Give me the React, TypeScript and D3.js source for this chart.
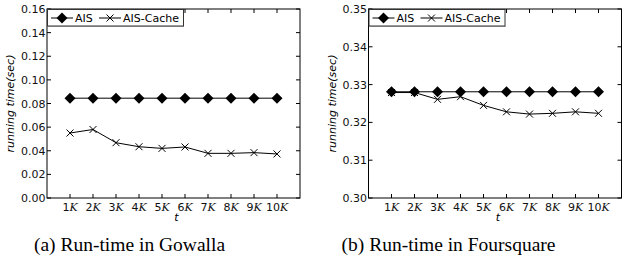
import * as d3 from "d3";
import React, { useEffect, useRef } from "react";

const tLabels = ["1", "2", "3", "4", "5", "6", "7", "8", "9", "10"];

const gowallaAIS = [0.0845, 0.0845, 0.0845, 0.0845, 0.0845, 0.0845, 0.0845, 0.0845, 0.0845, 0.0845];
const gowallaCache = [0.055, 0.058, 0.0468, 0.0434, 0.042, 0.0432, 0.0378, 0.0378, 0.0384, 0.0373];
const gowallaTicks = [0, 0.02, 0.04, 0.06, 0.08, 0.1, 0.12, 0.14, 0.16];

const fsqAIS = [0.3281, 0.3281, 0.3281, 0.3281, 0.3281, 0.3281, 0.3281, 0.3281, 0.3281, 0.3281];
const fsqCache = [0.3279, 0.3279, 0.3261, 0.3268, 0.3245, 0.3228, 0.3222, 0.3224, 0.3228, 0.3224];
const fsqTicks = [0.3, 0.31, 0.32, 0.33, 0.34, 0.35];

const Panel = ({ x0, ais, cache, yDomain, yTicks, caption, captionX }) => {
  const ref = useRef(null);

  useEffect(() => {
    const g = d3.select(ref.current);
    g.selectAll("*").remove();

    const left = x0, right = x0 + 253, top = 9, bottom = 198;
    const x = d3.scaleLinear().domain([0, 11]).range([left, right]);
    const y = d3.scaleLinear().domain(yDomain).range([bottom, top]);
    const font = "DejaVu Sans, sans-serif";

    // frame
    g.append("rect")
      .attr("x", left).attr("y", top)
      .attr("width", right - left).attr("height", bottom - top)
      .attr("fill", "white").attr("stroke", "black").attr("stroke-width", 1);

    // y ticks (inward, both sides)
    yTicks.forEach((v) => {
      const yy = y(v);
      g.append("line").attr("x1", left).attr("x2", left + 4).attr("y1", yy).attr("y2", yy).attr("stroke", "black");
      g.append("line").attr("x1", right).attr("x2", right - 4).attr("y1", yy).attr("y2", yy).attr("stroke", "black");
      g.append("text")
        .attr("x", left - 1.5).attr("y", yy + 4)
        .attr("text-anchor", "end")
        .attr("font-family", font).attr("font-size", 11)
        .attr("fill", "#111")
        .text(v.toFixed(2));
    });

    // x ticks
    tLabels.forEach((t, i) => {
      const xx = x(i + 1);
      g.append("line").attr("x1", xx).attr("x2", xx).attr("y1", bottom).attr("y2", bottom - 4).attr("stroke", "black");
      g.append("line").attr("x1", xx).attr("x2", xx).attr("y1", top).attr("y2", top + 4).attr("stroke", "black");
      const txt = g.append("text")
        .attr("x", xx).attr("y", bottom + 13)
        .attr("text-anchor", "middle")
        .attr("font-size", 11).attr("fill", "#111");
      txt.append("tspan").attr("font-family", font).text(t);
      txt.append("tspan").attr("font-family", "DejaVu Serif, serif").attr("font-style", "italic").text("K");
    });

    // axis titles
    g.append("text")
      .attr("x", (left + right) / 2 + 3).attr("y", bottom + 23)
      .attr("text-anchor", "middle")
      .attr("font-family", font).attr("font-style", "italic").attr("font-size", 11)
      .text("t");
    g.append("text")
      .attr("transform", `translate(${left - 33},${(top + bottom) / 2}) rotate(-90)`)
      .attr("text-anchor", "middle")
      .attr("font-family", font).attr("font-style", "italic").attr("font-size", 11)
      .text("running time(sec)");

    const line = d3.line().x((d, i) => x(i + 1)).y((d) => y(d));

    g.append("path").attr("d", line(ais)).attr("fill", "none").attr("stroke", "black").attr("stroke-width", 1);
    g.append("path").attr("d", line(cache)).attr("fill", "none").attr("stroke", "black").attr("stroke-width", 1);

    const diamond = (cx, cy, r) => `M${cx},${cy - r}L${cx + r},${cy}L${cx},${cy + r}L${cx - r},${cy}Z`;
    const cross = (cx, cy, r) => `M${cx - r},${cy - r}L${cx + r},${cy + r}M${cx - r},${cy + r}L${cx + r},${cy - r}`;

    g.selectAll(".ais").data(ais).enter().append("path")
      .attr("d", (d, i) => diamond(x(i + 1), y(d), 5.5))
      .attr("fill", "black");
    g.selectAll(".cache").data(cache).enter().append("path")
      .attr("d", (d, i) => cross(x(i + 1), y(d), 3.5))
      .attr("stroke", "black").attr("stroke-width", 1).attr("fill", "none");

    // legend
    g.append("rect")
      .attr("x", left + 0.5).attr("y", top + 0.5)
      .attr("width", 136).attr("height", 16.5)
      .attr("fill", "white").attr("stroke", "#333").attr("stroke-width", 1);
    g.append("line").attr("x1", left + 1).attr("x2", left + 137).attr("y1", top + 17.5).attr("y2", top + 17.5)
      .attr("stroke", "#777").attr("stroke-width", 1);
    const ly = top + 9;
    g.append("line").attr("x1", left + 4).attr("x2", left + 26).attr("y1", ly).attr("y2", ly).attr("stroke", "black");
    g.append("path").attr("d", diamond(left + 15, ly, 5.5)).attr("fill", "black");
    g.append("text").attr("x", left + 28).attr("y", ly + 4)
      .attr("font-family", font).attr("font-size", 11).text("AIS");
    g.append("line").attr("x1", left + 52).attr("x2", left + 74).attr("y1", ly).attr("y2", ly).attr("stroke", "black");
    g.append("path").attr("d", cross(left + 63, ly, 3.5)).attr("stroke", "black").attr("fill", "none");
    g.append("text").attr("x", left + 76).attr("y", ly + 4)
      .attr("font-family", font).attr("font-size", 11).text("AIS-Cache");

    // caption
    g.append("text")
      .attr("x", captionX).attr("y", 251)
      .attr("text-anchor", "middle")
      .attr("font-family", "Liberation Serif, serif").attr("font-size", 19.5)
      .text(caption);
  }, []);

  return <g ref={ref} />;
};

export default function App() {
  return (
    <svg width={629} height={261} style={{ position: "absolute", left: 0, top: 0, background: "white" }}>
      <Panel x0={47} ais={gowallaAIS} cache={gowallaCache} yDomain={[0, 0.16]} yTicks={gowallaTicks}
        caption="(a) Run-time in Gowalla" captionX={129.5} />
      <Panel x0={368.5} ais={fsqAIS} cache={fsqCache} yDomain={[0.3, 0.35]} yTicks={fsqTicks}
        caption="(b) Run-time in Foursquare" captionX={448.5} />
    </svg>
  );
}
